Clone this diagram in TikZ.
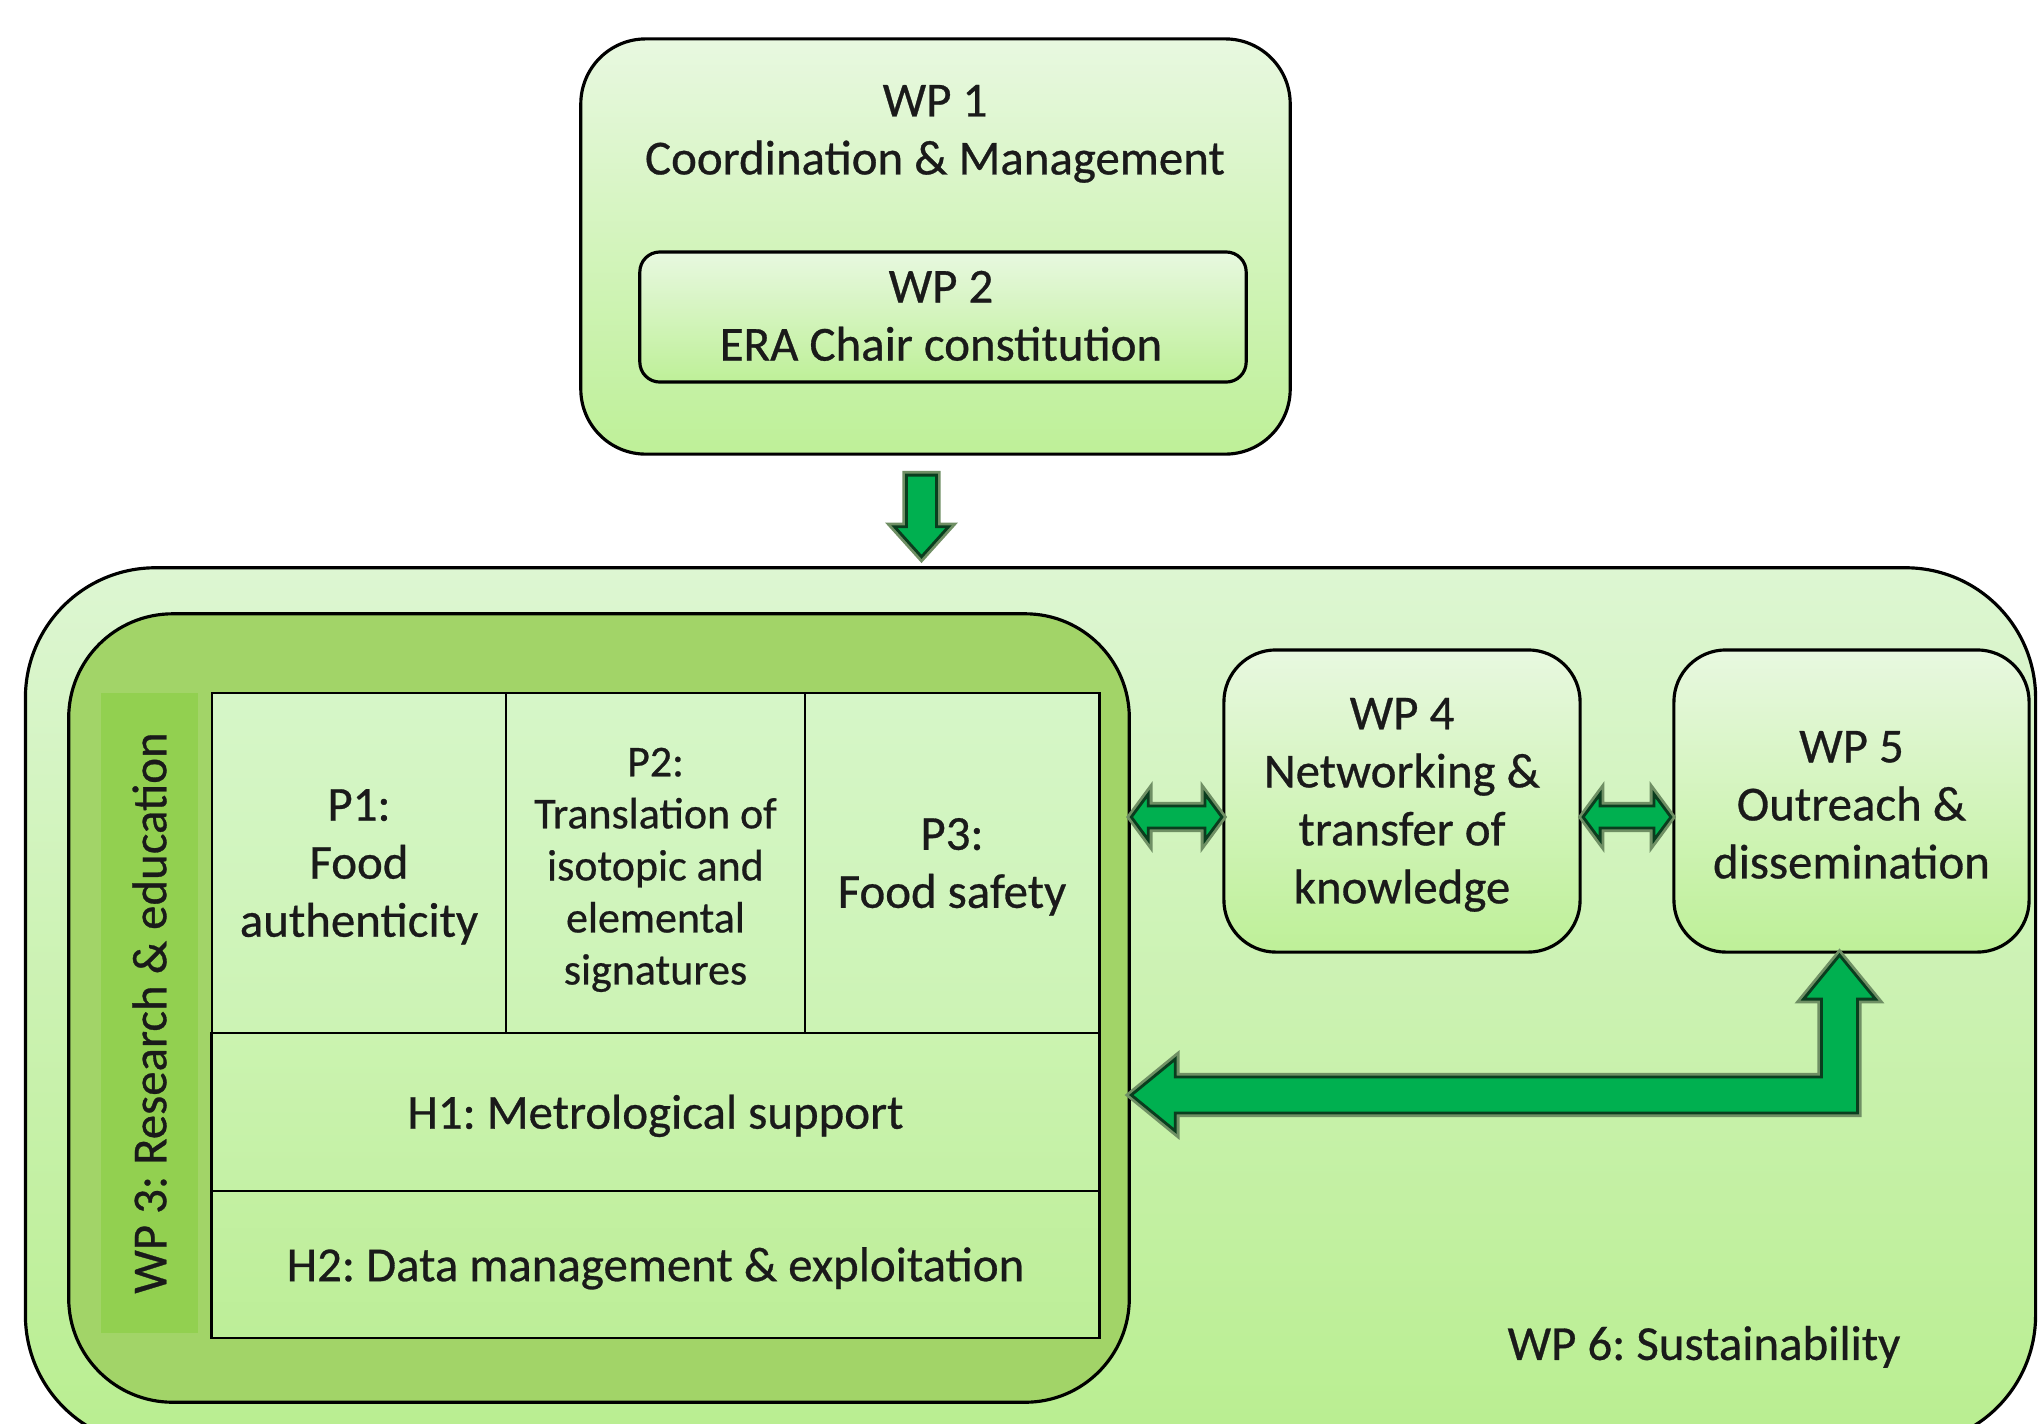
\documentclass[tikz,border=0pt]{standalone}
\usepackage{fontspec}
\setmainfont{Carlito}[FakeBold=0.6]
\usetikzlibrary{calc}
\frenchspacing
\definecolor{gtop}{HTML}{E8F8E0}
\definecolor{gbot}{HTML}{BEF098}
\definecolor{otop}{HTML}{DDF6D2}
\definecolor{obot}{HTML}{B9EE90}
\definecolor{wpthree}{HTML}{A2D468}
\definecolor{strip}{HTML}{92D050}
\definecolor{arrfill}{HTML}{00B050}
\definecolor{arrline}{HTML}{0A3D1E}
\definecolor{arrglow}{HTML}{6F8F64}
\definecolor{txt}{HTML}{1A1A1A}
\definecolor{ptop}{HTML}{D6F6C8}
\definecolor{pbot}{HTML}{CCF3B4}
\definecolor{hatop}{HTML}{CBF3B0}
\definecolor{habot}{HTML}{C4F1A5}
\definecolor{hbtop}{HTML}{C3F0A2}
\definecolor{hbbot}{HTML}{BDEE98}
\tikzset{
  gbox/.style={draw=black, line width=0.9pt, top color=gtop, bottom color=gbot, outer sep=0pt, inner sep=0pt},
  cell/.style={draw=black, line width=0.8pt, outer sep=0pt, inner sep=0pt},
  glowarrow/.style={draw=arrglow, line width=2.4pt, line join=miter},
  blockarrow/.style={fill=arrfill, draw=arrline, line width=0.8pt, line join=miter},
  lbl/.style={text=txt, align=center, inner sep=0pt, yshift=-1.1pt},
  mainfont/.style={font=\fontsize{13.9}{16.5}\selectfont},
  smallfont/.style={font=\fontsize{12.5}{14.8}\selectfont}
}
\newcommand\blockpoly[2]{\draw[glowarrow] #2; \filldraw[blockarrow] #2;}
\begin{document}
\begin{tikzpicture}[x=0.01cm,y=-0.01cm, mainfont]
\useasboundingbox (0,0) rectangle (2039,1423);
\clip (0,0) rectangle (2039,1423);
% WP6 outer
\node[gbox, top color=otop, bottom color=obot, rounded corners=1.3cm, minimum width=20.09cm, minimum height=8.77cm] (wp6) at (1030.5,1006.5) {};
% WP1 and WP2
\node[gbox, rounded corners=0.65cm, minimum width=7.09cm, minimum height=4.15cm] (wp1) at (935.5,246.5) {};
\node[lbl] (wp1t) at (935,130) {WP 1\\Coordination \& Management};
\node[gbox, rounded corners=0.2cm, minimum width=6.06cm, minimum height=1.30cm] (wp2) at (943,317) {};
\node[lbl] (wp2t) at (941,312) {WP 2\\ERA Chair constitution};
% WP3
\node[draw=black, line width=0.9pt, fill=wpthree, rounded corners=1.04cm, minimum width=10.60cm, minimum height=7.88cm, outer sep=0pt] (wp3) at (599,1008) {};
\node[fill=strip, minimum width=0.97cm, minimum height=6.40cm, outer sep=0pt, inner sep=0pt] (strip) at (149.5,1013) {};
\node[text=txt, inner sep=0pt, rotate=90] (wp3t) at (strip.center) {WP 3: Research \& education};
% table cells
\node[cell, top color=ptop, bottom color=pbot, minimum width=2.94cm, minimum height=3.40cm] (p1) at (359,863) {};
\node[cell, top color=ptop, bottom color=pbot, minimum width=2.99cm, minimum height=3.40cm] (p2) at (655.5,863) {};
\node[cell, top color=ptop, bottom color=pbot, minimum width=2.94cm, minimum height=3.40cm] (p3) at (952,863) {};
\node[cell, top color=hatop, bottom color=habot, minimum width=8.87cm, minimum height=1.58cm] (h1) at (655.5,1112) {};
\node[cell, top color=hbtop, bottom color=hbbot, minimum width=8.87cm, minimum height=1.47cm] (h2) at (655.5,1264.5) {};
\node[lbl] (p1t) at (p1.center) {P1:\\Food\\authenticity};
\node[lbl, smallfont] (p2t) at ($(p2.center)+(0,3)$) {P2:\\Translation of\\isotopic and\\elemental\\signatures};
\node[lbl] (p3t) at (p3.center) {P3:\\Food safety};
\node[lbl] (h1t) at (h1.center) {H1: Metrological support};
\node[lbl] (h2t) at (h2.center) {H2: Data management \& exploitation};
% WP4, WP5
\node[gbox, rounded corners=0.52cm, minimum width=3.56cm, minimum height=3.02cm] (wp4) at (1402,801) {};
\node[gbox, rounded corners=0.52cm, minimum width=3.55cm, minimum height=3.02cm] (wp5) at (1851.5,801) {};
\node[lbl] (wp4t) at (wp4.center) {WP 4\\Networking \&\\transfer of\\knowledge};
\node[lbl] (wp5t) at (wp5.center) {WP 5\\Outreach \&\\dissemination};
% WP6 label
\node[lbl] (wp6t) at (1704,1343) {WP 6: Sustainability};
% down arrow wp1 -> wp6
\coordinate (da) at ($(wp1.south)+(-14,21)$);
\coordinate (db) at ($(wp6.north)+(0,-11)$);
\coordinate (dt) at (da |- db);
\blockpoly{}{($(da)+(-15,0)$) -- ($(da)+(15,0)$) -- ($(dt)+(15,-30)$) -- ($(dt)+(27,-30)$) -- (dt) -- ($(dt)+(-27,-30)$) -- ($(dt)+(-15,-30)$) -- cycle}
% double arrows
\coordinate (d1a) at ($(wp3.east |- 0,817)+(2,0)$);
\coordinate (d1b) at ($(wp4.west |- 0,817)+(-2,0)$);
\coordinate (d2a) at ($(wp4.east |- 0,817)+(3,0)$);
\coordinate (d2b) at ($(wp5.west |- 0,817)+(-3,0)$);
\foreach \a/\b in {d1a/d1b, d2a/d2b}{
  \blockpoly{}{(\a) -- ($(\a)+(17,-23)$) -- ($(\a)+(17,-11)$) -- ($(\b)+(-17,-11)$) -- ($(\b)+(-17,-23)$) -- (\b) -- ($(\b)+(-17,23)$) -- ($(\b)+(-17,11)$) -- ($(\a)+(17,11)$) -- ($(\a)+(17,23)$) -- cycle}
}
% L arrow wp5 -> wp3
\coordinate (la) at ($(wp5.south)+(-12,3)$);
\coordinate (lc) at (la |- 0,1095);
\coordinate (lb) at ($(wp3.east |- lc)+(2,0)$);
\blockpoly{}{(la) -- ($(la)+(36,44)$) -- ($(la)+(18,44)$) -- ($(lc)+(18,18)$) -- ($(lb)+(44,18)$) -- ($(lb)+(44,36)$) -- (lb) -- ($(lb)+(44,-36)$) -- ($(lb)+(44,-18)$) -- ($(lc)+(-18,-18)$) -- ($(la)+(-18,44)$) -- ($(la)+(-36,44)$) -- cycle}
\end{tikzpicture}
\end{document}
